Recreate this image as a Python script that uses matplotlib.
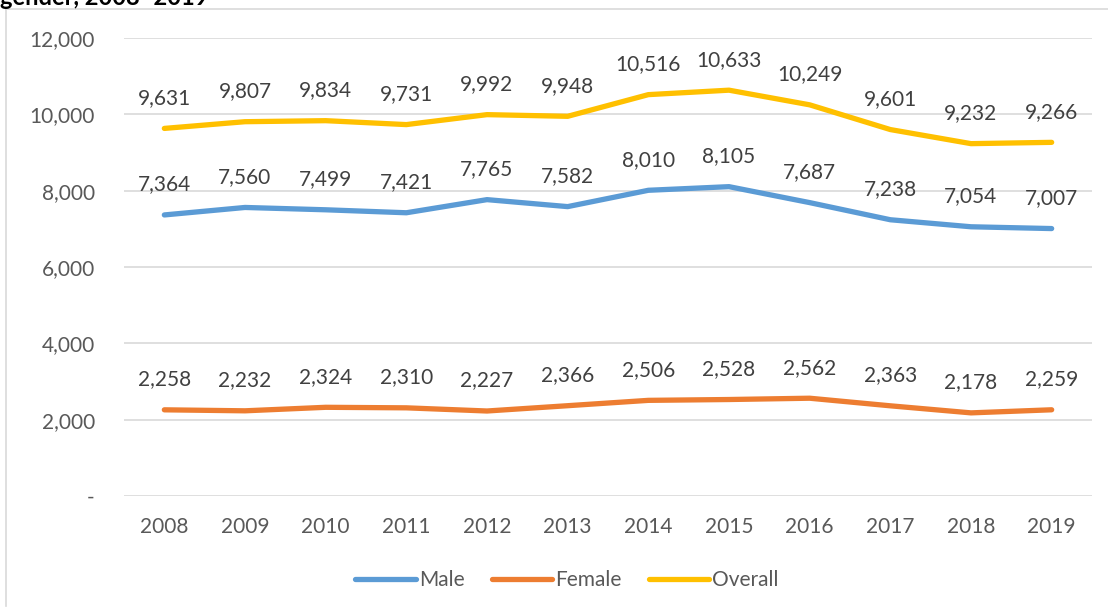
import numpy as np
import matplotlib.pyplot as plt
from matplotlib.lines import Line2D
from matplotlib.ticker import FuncFormatter

plt.rcParams['font.family'] = ['Lato', 'DejaVu Sans']

years = ['2008', '2009', '2010', '2011', '2012', '2013',
         '2014', '2015', '2016', '2017', '2018', '2019']
male = [7364, 7560, 7499, 7421, 7765, 7582, 8010, 8105, 7687, 7238, 7054, 7007]
female = [2258, 2232, 2324, 2310, 2227, 2366, 2506, 2528, 2562, 2363, 2178, 2259]
overall = [9631, 9807, 9834, 9731, 9992, 9948, 10516, 10633, 10249, 9601, 9232, 9266]

series = [('Male', male, '#5B9BD5'),
          ('Female', female, '#ED7D31'),
          ('Overall', overall, '#FFC000')]

W, H = 1108, 611
fig = plt.figure(figsize=(W / 100, H / 100), dpi=100)
ax = fig.add_axes([124 / W, 1 - 496 / H, (1092 - 124) / W, (496 - 38) / H])

x = np.arange(len(years))
for name, vals, col in series:
    ax.plot(x, vals, color=col, lw=3.8, solid_capstyle='round', label=name)
    for xi, v in zip(x, vals):
        ax.annotate(f'{v:,}', (xi, v), xytext=(0, 22), textcoords='offset points',
                    ha='center', va='center', fontsize=15, color='#404040')

ax.set_xlim(-0.5, len(years) - 0.5)
ax.set_ylim(0, 12000)
ax.set_yticks(range(0, 12001, 2000))
ax.yaxis.set_major_formatter(FuncFormatter(lambda v, p: '-' if v == 0 else f'{int(v):,}'))
ax.set_xticks(x)
ax.set_xticklabels(years)
ax.tick_params(axis='both', length=0, labelsize=15, labelcolor='#595959')
ax.tick_params(axis='y', pad=21)
ax.tick_params(axis='x', pad=15)
ax.grid(axis='y', color='#D9D9D9', lw=1.2)
ax.set_axisbelow(True)
for s in ax.spines.values():
    s.set_visible(False)

leg = ax.legend(loc='center', bbox_to_anchor=(567 / W, 1 - 580 / H),
                bbox_transform=fig.transFigure, ncol=3, frameon=False,
                fontsize=15, handlelength=2.9, handletextpad=0.15,
                columnspacing=1.3)
for t in leg.get_texts():
    t.set_color('#595959')

# chart border (left and top edges)
fig.add_artist(Line2D([6 / W, 6 / W], [1 - 9 / H, 1 - 606 / H],
                      transform=fig.transFigure, color='#D9D9D9', lw=1.2))
fig.add_artist(Line2D([6 / W, 1.0], [1 - 9 / H, 1 - 9 / H],
                      transform=fig.transFigure, color='#D9D9D9', lw=1.2))

fig.text(0.0, 1 - 5 / H, 'gender, 2008\u20132019', fontsize=17, fontweight='bold',
         color='#000000', ha='left', va='baseline')

fig.savefig('out.png', dpi=100, facecolor='white')
